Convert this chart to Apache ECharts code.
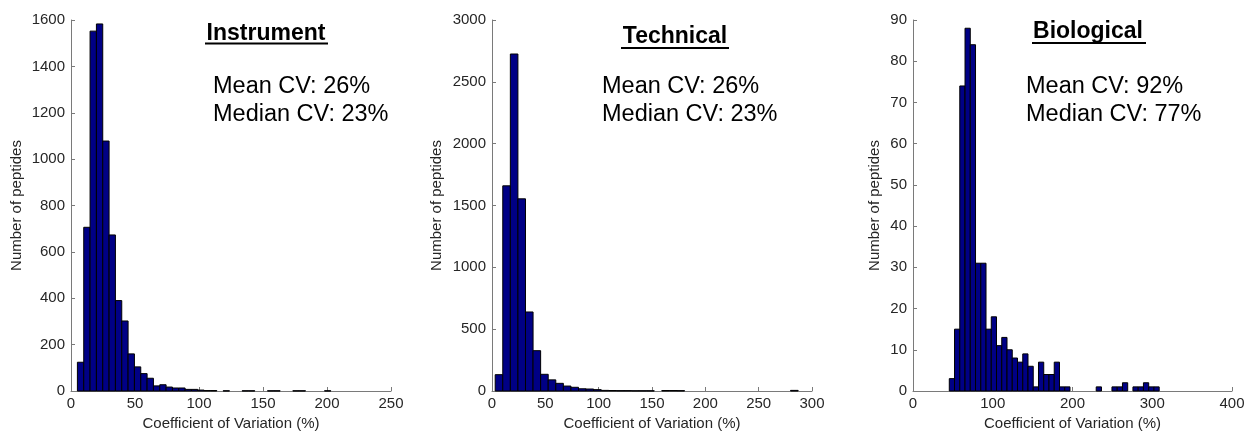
<!DOCTYPE html>
<html>
<head>
<meta charset="utf-8">
<script src="https://cdn.jsdelivr.net/npm/echarts@6/dist/echarts.min.js"></script>
<style>
html,body{margin:0;padding:0;background:#fff;}
#chart{width:1247px;height:433px;}
</style>
</head>
<body>
<div id="chart"></div>
<script>
// ---------------- Data ----------------
const panelTitles = ['Instrument', 'Technical', 'Biological'];
const meanCV = ['Mean CV: 26%', 'Mean CV: 26%', 'Mean CV: 92%'];
const medianCV = ['Median CV: 23%', 'Median CV: 23%', 'Median CV: 77%'];

// histogram bins: first edge, bin width, counts per bin
const instrumentBinStart = 5;
const instrumentBinWidth = 4.95;
const instrumentCounts = [124, 706, 1552, 1583, 1078, 673, 390, 302, 160, 104,
  75, 55, 22, 27, 17, 13, 13, 7, 7, 4,
  2, 2, 0, 1, 0, 0, 1, 1, 0, 0,
  1, 1, 0, 0, 1, 1, 0, 0, 0, 1];

const technicalBinStart = 3;
const technicalBinWidth = 7.1;
const technicalCounts = [132, 1659, 2725, 1554, 639, 326, 135, 90, 62, 40,
  30, 18, 16, 11, 5, 4, 3, 3, 2, 2,
  2, 0, 4, 4, 3, 0, 0, 0, 0, 0,
  0, 0, 0, 0, 0, 0, 0, 0, 0, 5];

const biologicalBinStart = 45.5;
const biologicalBinWidth = 6.58;
const biologicalCounts = [3, 15, 74, 88, 84, 31, 31, 15, 18, 11,
  13, 10, 8, 7, 9, 6, 1, 7, 4, 4,
  7, 1, 1, 0, 0, 0, 0, 0, 1, 0,
  0, 1, 1, 2, 0, 1, 1, 2, 1, 1];

// axis ranges / ticks
const xMax = [250, 300, 400];
const xInterval = [50, 50, 100];
const yMax = [1600, 3000, 90];
const yInterval = [200, 500, 10];

const xAxisName = 'Coefficient of Variation (%)';
const yAxisName = 'Number of peptides';

// ---------------- Build ----------------
function bins(start, width, counts) {
  return counts.map((c, i) => [start + i * width, start + (i + 1) * width, c]);
}
const binData = [
  bins(instrumentBinStart, instrumentBinWidth, instrumentCounts),
  bins(technicalBinStart, technicalBinWidth, technicalCounts),
  bins(biologicalBinStart, biologicalBinWidth, biologicalCounts)
];

const gridLefts = [71, 492, 913];
const gridWidths = [320, 320, 319];
const yNameGaps = [47, 48, 31];
const font = '"Liberation Sans", Arial, sans-serif';
const axisGray = '#7a7a7a';
const textDark = '#262626';

const grids = [], xAxes = [], yAxes = [], series = [];
for (let i = 0; i < 3; i++) {
  grids.push({ left: gridLefts[i], top: 20, width: gridWidths[i], height: 371, containLabel: false, outerBoundsMode: 'none' });
  xAxes.push({
    type: 'value', gridIndex: i, min: 0, max: xMax[i], interval: xInterval[i],
    name: xAxisName, nameLocation: 'middle', nameGap: 24,
    nameTextStyle: { color: textDark, fontSize: 15, fontFamily: font },
    axisLine: { show: true, lineStyle: { color: axisGray, width: 1 } },
    axisTick: { show: true, inside: true, length: 4, lineStyle: { color: axisGray } },
    axisLabel: { color: textDark, fontSize: 15, fontFamily: font, margin: 5, formatter: v => String(v) },
    splitLine: { show: false }
  });
  yAxes.push({
    type: 'value', gridIndex: i, min: 0, max: yMax[i], interval: yInterval[i],
    name: yAxisName, nameLocation: 'middle', nameGap: yNameGaps[i],
    nameTextStyle: { color: textDark, fontSize: 15, fontFamily: font },
    axisLine: { show: true, lineStyle: { color: axisGray, width: 1 } },
    axisTick: { show: true, inside: true, length: 4, lineStyle: { color: axisGray } },
    axisLabel: { color: textDark, fontSize: 15, fontFamily: font, margin: 6, formatter: v => String(v) },
    splitLine: { show: false }
  });
  series.push({
    type: 'custom', xAxisIndex: i, yAxisIndex: i,
    data: binData[i],
    encode: { x: [0, 1], y: 2 },
    renderItem: function (params, api) {
      const p0 = api.coord([api.value(0), api.value(2)]);
      const p1 = api.coord([api.value(1), 0]);
      if (api.value(2) <= 0) return null;
      return {
        type: 'rect',
        shape: { x: p0[0], y: p0[1], width: p1[0] - p0[0], height: p1[1] - p0[1] },
        style: { fill: '#000085', stroke: '#000000', lineWidth: 1 }
      };
    }
  });
}

// annotation text (titles underlined + stats)
const titleCenters = [266, 675, 1088];
const titleY = [33.5, 37, 32];
const underlineY = [43.5, 48, 43];
const underlineX = [[205, 328], [621, 729], [1032, 1146]];
const statLeft = [213, 602, 1026];
const graphics = [];
for (let i = 0; i < 3; i++) {
  graphics.push({
    type: 'text', x: titleCenters[i], y: titleY[i],
    style: { text: panelTitles[i], fill: '#000', font: 'bold 23px ' + font, textAlign: 'center', textVerticalAlign: 'middle' }
  });
  graphics.push({
    type: 'line',
    shape: { x1: underlineX[i][0], y1: underlineY[i], x2: underlineX[i][1], y2: underlineY[i] },
    style: { stroke: '#000', lineWidth: 2 }
  });
  graphics.push({
    type: 'text', x: statLeft[i], y: 86.5,
    style: { text: meanCV[i], fill: '#000', font: '23.5px ' + font, textAlign: 'left', textVerticalAlign: 'middle' }
  });
  graphics.push({
    type: 'text', x: statLeft[i], y: 115,
    style: { text: medianCV[i], fill: '#000', font: '23.5px ' + font, textAlign: 'left', textVerticalAlign: 'middle' }
  });
}

const chart = echarts.init(document.getElementById('chart'), null, { renderer: 'canvas' });
chart.setOption({
  animation: false,
  backgroundColor: '#ffffff',
  grid: grids,
  xAxis: xAxes,
  yAxis: yAxes,
  series: series,
  graphic: graphics
});
</script>
</body>
</html>
